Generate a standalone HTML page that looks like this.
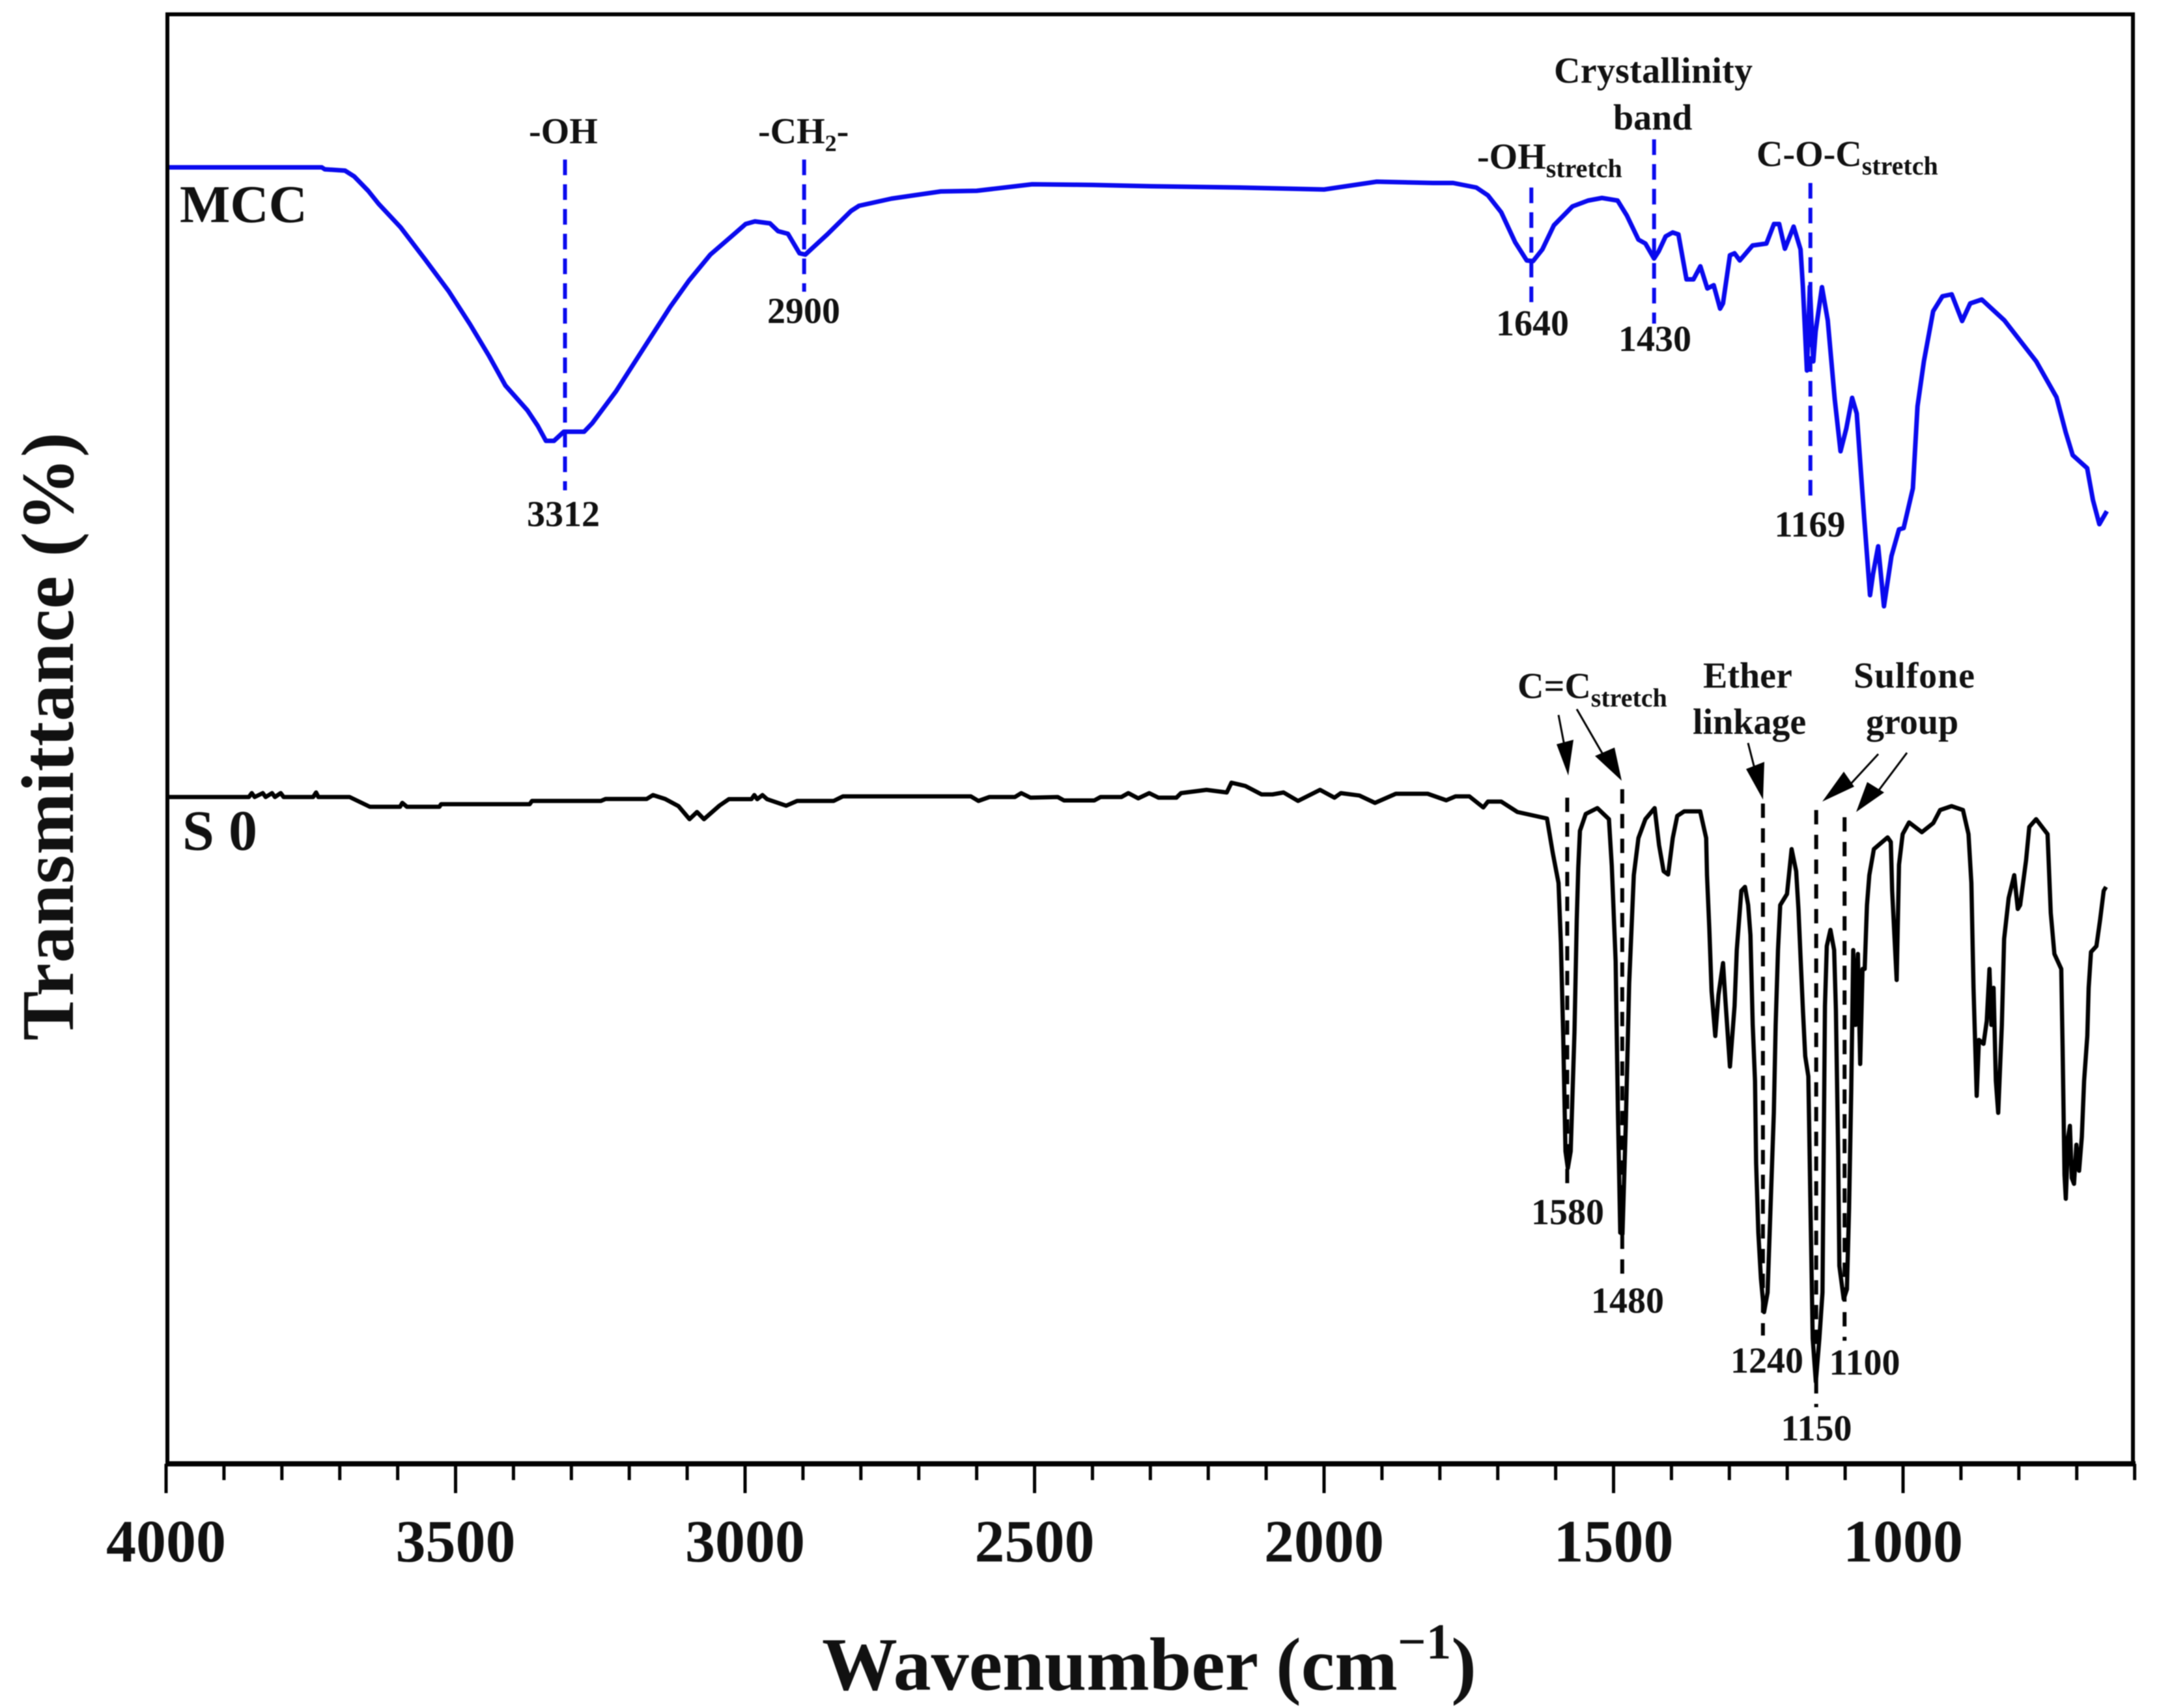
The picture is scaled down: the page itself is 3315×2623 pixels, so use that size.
<!DOCTYPE html>
<html lang="en">
<head>
<meta charset="utf-8">
<title>FTIR spectra of MCC and S0</title>
<style>
html,body{margin:0;padding:0;background:#fff;width:3315px;height:2623px;overflow:hidden}
svg{display:block;filter:blur(0.9px)}
text{font-family:"Liberation Serif",serif;font-weight:bold;fill:#111}
.lbl{font-size:56px}
.num{font-size:56px;text-anchor:middle}
.sub{font-size:40px}
</style>
</head>
<body>
<svg id="chart" xmlns="http://www.w3.org/2000/svg" width="3315" height="2623" viewBox="0 0 3315 2623">
  <rect x="0" y="0" width="3315" height="2623" fill="#fff"/>
  <g id="series"></g>
  <g id="markers"></g>
  <rect x="257" y="22" width="3018" height="2226" fill="none" stroke="#000" stroke-width="6"/>
  <line x1="255" x2="3279" y1="2248" y2="2248" stroke="#000" stroke-width="8"/>
  <g id="ticks"></g>

  <text transform="translate(112,1598) rotate(-90)" x="0" y="0" font-size="114" textLength="934" style="font-size:114px">Transmittance (%)</text>
  <text x="1262" y="2595" style="font-size:116px">Wavenumber (cm<tspan dy="-48" style="font-size:77px">−1</tspan><tspan dy="48">)</tspan></text>

  <text x="276" y="341" style="font-size:82px">MCC</text>
  <text x="280" y="1305" style="font-size:88px">S 0</text>

  <text class="lbl" x="812" y="220">-OH</text>
  <text class="lbl" x="1164" y="220">-CH<tspan dy="12" style="font-size:36px">2</tspan><tspan dy="-12">-</tspan></text>
  <text class="lbl" x="2386" y="127" textLength="305">Crystallinity</text>
  <text class="lbl" x="2477" y="199">band</text>
  <text class="lbl" x="2268" y="259">-OH<tspan class="sub" dy="13">stretch</tspan></text>
  <text class="lbl" x="2697" y="255">C-O-C<tspan class="sub" dy="13">stretch</tspan></text>
  <text class="lbl" x="2330" y="1072">C=C<tspan class="sub" dy="13">stretch</tspan></text>
  <text class="lbl" x="2615" y="1056">Ether</text>
  <text class="lbl" x="2599" y="1127">linkage</text>
  <text class="lbl" x="2846" y="1056" textLength="186">Sulfone</text>
  <text class="lbl" x="2865" y="1127">group</text>

  <text class="num" x="865" y="808">3312</text>
  <text class="num" x="1234" y="496">2900</text>
  <text class="num" x="2353" y="515">1640</text>
  <text class="num" x="2541" y="539">1430</text>
  <text class="num" x="2779" y="824">1169</text>
  <text class="num" x="2407" y="1880">1580</text>
  <text class="num" x="2499" y="2016">1480</text>
  <text class="num" x="2713" y="2108">1240</text>
  <text class="num" x="2863" y="2111">1100</text>
  <text class="num" x="2789" y="2212">1150</text>

  <g fill="#000" stroke="#000">
    <line x1="2393" y1="1098" x2="2402" y2="1145" stroke-width="3"/>
    <polygon points="2390,1143 2416,1136 2408,1191" stroke="none"/>
    <line x1="2421" y1="1089" x2="2462" y2="1160" stroke-width="3"/>
    <polygon points="2449,1161 2479,1148 2490,1199" stroke="none"/>
    <line x1="2684" y1="1141" x2="2694" y2="1180" stroke-width="3"/>
    <polygon points="2681,1181 2709,1170 2707,1228" stroke="none"/>
    <line x1="2884" y1="1158" x2="2836" y2="1210" stroke-width="3"/>
    <polygon points="2831,1185 2847,1208 2798,1231" stroke="none"/>
    <line x1="2928" y1="1156" x2="2880" y2="1220" stroke-width="3"/>
    <polygon points="2867,1201 2893,1217 2850,1247" stroke="none"/>
  </g>
</svg>
<script>
// Transmittance is in arbitrary offset units (traces are stacked; no y ticks in the figure).
const mccWavenumbers = [4000,3731,3726,3691,3675,3651,3633,3595,3553,3512,3475,3442,3414,3376,3358,3344,3330,3313,3278,3264,3223,3176,3129,3097,3060,3017,2999,2983,2957,2943,2926,2906,2896,2858,2817,2803,2747,2662,2600,2504,2400,2300,2146,2000,1909,1812,1777,1737,1717,1694,1670,1650,1639,1623,1603,1571,1544,1520,1493,1477,1457,1445,1430,1422,1410,1398,1388,1374,1362,1350,1338,1327,1316,1311,1299,1291,1282,1260,1236,1223,1214,1204,1189,1177,1173,1166,1161,1155,1151,1140,1130,1118,1108,1098,1088,1080,1067,1057,1052,1043,1033,1020,1007,999,983,975,964,948,932,916,898,884,864,825,770,735,719,707,682,672,661,648];
const mccTransmittance = [199.1,199.1,198.8,198.6,197.7,195.5,193.5,189.9,185,180.1,175,170.1,165.6,161.8,159.4,157.1,157.1,158.5,158.5,159.8,164.7,171.2,177.7,181.7,185.7,189,190.4,190.8,190.5,189.3,188.9,185.9,185.7,188.8,192.4,193.2,194.3,195.4,195.5,196.5,196.4,196.2,196,195.7,196.9,196.7,196.7,196,194.8,192.2,187.6,184.8,184.7,186.5,190.2,193.1,194,194.4,194,191.7,188,187.4,185.1,186.2,188.5,189.1,188.8,181.9,181.9,183.9,180.5,181,177.4,178.2,185.6,185.9,184.8,187.1,187.4,190.4,190.4,186.6,190,186.5,180.8,167.9,180.8,169.3,173.9,180.7,175.6,163.5,155.5,159,163.7,161.3,145.2,133.4,136.6,140.9,131.7,139.4,143.5,143.7,149.8,162.4,169.3,177,179.3,179.6,175.5,178.2,178.8,175.6,169.3,163.8,158.4,154.9,152.9,148,144.3,146.3];

const s0Wavenumbers = [4000,3857,3852,3847,3833,3828,3817,3812,3802,3797,3746,3741,3737,3683,3648,3596,3592,3584,3528,3525,3372,3368,3249,3241,3170,3159,3138,3115,3096,3083,3071,3044,3028,2989,2984,2979,2970,2962,2929,2910,2847,2831,2610,2597,2578,2534,2523,2507,2460,2449,2397,2386,2350,2338,2321,2302,2286,2255,2247,2203,2168,2160,2136,2108,2089,2070,2045,2007,1982,1971,1939,1912,1876,1821,1789,1773,1749,1725,1717,1694,1666,1615,1605,1595,1591,1587,1583,1579,1574,1567.5,1563.5,1561,1558,1548,1528,1508,1503,1496.4,1492.5,1488.4,1484.6,1479,1473,1465,1457,1445,1429,1421.4,1413.5,1405.7,1397.8,1390,1378,1350.4,1340,1338.6,1334.6,1330.7,1324.3,1318.8,1310.9,1307,1299,1291,1287.2,1279.3,1273,1267.5,1263.6,1259.6,1255.7,1253.8,1250,1245.4,1240,1234,1228.6,1223.2,1220,1216,1212.2,1200.4,1192.5,1184.6,1180.7,1176.7,1172.8,1169,1163.6,1159.8,1156,1150.6,1144.5,1139.2,1134.9,1131.7,1125.4,1119,1116,1112,1110,1102.5,1097,1093.3,1089.5,1086,1082,1078,1074,1070,1066.2,1062.3,1058.3,1050.4,1026.7,1021.2,1018.8,1015,1011,1007,1000.7,989.6,967.5,947.8,936,916.2,896.5,887,882,878.3,872.8,868.9,861,855.4,850.7,847.5,843.6,839.7,835.7,829.4,825.4,817.6,808,801.8,797.8,787.5,782,770.2,750.4,744.9,738.6,726.8,724.4,721.2,718.9,714.9,711.8,708.6,704.7,700.7,696,691.2,687.3,681.8,679.4,675.4,666,659.7,653.4,649.4];
const s0Transmittance = [102.4,102.4,103,102.4,103,102.4,103,102.4,103,102.4,102.4,103.1,102.4,102.4,100.9,100.9,101.5,100.9,100.9,101.3,101.3,101.8,101.8,102.1,102.1,102.7,102.1,101,99,100.1,99,101.1,102.07,102.07,102.7,102.07,102.7,102.07,101.07,101.8,101.8,102.5,102.5,101.8,102.4,102.4,103,102.3,102.4,101.87,101.87,102.4,102.4,103,102.2,103,102.3,102.3,103,103.5,103.1,104.6,104.1,102.8,102.8,103.1,101.8,103.5,102.3,103,102.63,101.5,102.9,102.9,101.9,102.5,102.5,100.8,101.7,101.7,100.1,99.1,93.8,89.2,80,65.7,48,45.4,48,66.3,83.5,91.5,97.2,99.8,100.7,99,91.8,77.2,54.1,35.5,35.3,51.8,73.8,90.4,96.1,99,100.7,95,91,90.5,96.1,99.5,100.2,100.2,96.1,90.4,82.3,72.6,65.7,72,76.9,71.4,61,70.3,78.9,88,88.6,85.8,81.2,67.4,58.8,46.2,35.5,28.4,23.3,26.3,40.1,53.9,67.4,78.9,85.8,87.5,94.4,91,85.2,77.2,69.4,62.6,59.5,39.1,19.2,12.6,19.2,26.3,70.3,79.5,82,78.9,69.7,47.6,30.4,25.3,26.8,39.1,57,78.9,67.4,78.3,61.4,76,76,85.8,90.4,94.4,96.2,95.5,88,81.2,74.3,92,96.7,98.5,97,98.4,100.4,101,100.4,96.7,89.2,73.1,56.5,65.1,64.5,68,76,67.4,73.1,58.8,53.9,67.4,80.6,86.9,90.4,85.2,85.8,92.7,97.8,99,96.7,84.6,78.3,76,64,44.4,40.7,50.2,51.9,43.9,43,49,45,50.2,58.8,65.7,73.1,78.6,79.5,83.5,88,88.6];

const xTickLabels = [4000,3500,3000,2500,2000,1500,1000];
const xMinorTicks = [3900,3800,3700,3600,3400,3300,3200,3100,2900,2800,2700,2600,2400,2300,2200,2100,1900,1800,1700,1600,1400,1300,1200,1100,900,800,700,600];

const mccMarkerWavenumbers = [3311,2898,1642,1430,1160];
const mccMarkerTop = [200.3,200.3,196,203.4,196.7];
const mccMarkerBottom = [149.5,180,177.9,175.1,147.6];
const s0MarkerWavenumbers = [1580,1485,1242,1150,1101];
const s0MarkerTop = [102.3,103.6,101.4,100.4,99.3];
const s0MarkerBottom = [42.1,28.6,19.7,8.7,18.9];

const SVGNS = 'http://www.w3.org/2000/svg';
function xScale(w) { return 255 + (4000 - w) * 0.889; }
function yScale(t) { return 2248 - t * 10; }
function pathFrom(ws, ts) {
  return ws.map(function (w, i) {
    return (i ? 'L' : 'M') + xScale(w).toFixed(1) + ' ' + yScale(ts[i]).toFixed(1);
  }).join('');
}

const seriesGroup = document.getElementById('series');
const mccPath = document.createElementNS(SVGNS, 'path');


mccPath.setAttribute('d', pathFrom(mccWavenumbers, mccTransmittance));
mccPath.setAttribute('fill', 'none');
mccPath.setAttribute('stroke', '#0a0aee');
mccPath.setAttribute('stroke-width', '7');
mccPath.setAttribute('stroke-linejoin', 'round');
seriesGroup.appendChild(mccPath);

const s0Path = document.createElementNS(SVGNS, 'path');


s0Path.setAttribute('d', pathFrom(s0Wavenumbers, s0Transmittance));
s0Path.setAttribute('fill', 'none');
s0Path.setAttribute('stroke', '#000');
s0Path.setAttribute('stroke-width', '6.5');
s0Path.setAttribute('stroke-linejoin', 'round');
seriesGroup.appendChild(s0Path);

const markersGroup = document.getElementById('markers');
mccMarkerWavenumbers.forEach(function (w, i) {
  const m = document.createElementNS(SVGNS, 'line');
  
  
  m.setAttribute('x1', xScale(w));
  m.setAttribute('x2', xScale(w));
  m.setAttribute('y1', yScale(mccMarkerTop[i]));
  m.setAttribute('y2', yScale(mccMarkerBottom[i]));
  m.setAttribute('stroke', '#0a0aee');
  m.setAttribute('stroke-width', '6');
  m.setAttribute('stroke-dasharray', '24 14');
  markersGroup.appendChild(m);
});
s0MarkerWavenumbers.forEach(function (w, i) {
  const m = document.createElementNS(SVGNS, 'line');
  
  
  m.setAttribute('x1', xScale(w));
  m.setAttribute('x2', xScale(w));
  m.setAttribute('y1', yScale(s0MarkerTop[i]));
  m.setAttribute('y2', yScale(s0MarkerBottom[i]));
  m.setAttribute('stroke', '#000');
  m.setAttribute('stroke-width', '6');
  m.setAttribute('stroke-dasharray', '22 16');
  markersGroup.appendChild(m);
});

const ticksGroup = document.getElementById('ticks');
xTickLabels.forEach(function (w) {
  const t = document.createElementNS(SVGNS, 'line');
  
  
  t.setAttribute('x1', xScale(w));
  t.setAttribute('x2', xScale(w));
  t.setAttribute('y1', 2248);
  t.setAttribute('y2', 2293);
  t.setAttribute('stroke', '#000');
  t.setAttribute('stroke-width', '5');
  ticksGroup.appendChild(t);
  const lab = document.createElementNS(SVGNS, 'text');
  
  
  lab.setAttribute('x', xScale(w));
  lab.setAttribute('y', 2398);
  lab.setAttribute('text-anchor', 'middle');
  lab.setAttribute('style', 'font-size:92px');
  lab.textContent = w;
  ticksGroup.appendChild(lab);
});
xMinorTicks.forEach(function (w) {
  const t = document.createElementNS(SVGNS, 'line');
  
  
  t.setAttribute('x1', xScale(w));
  t.setAttribute('x2', xScale(w));
  t.setAttribute('y1', 2248);
  t.setAttribute('y2', 2273);
  t.setAttribute('stroke', '#000');
  t.setAttribute('stroke-width', '5');
  ticksGroup.appendChild(t);
});
</script>
</body>
</html>
